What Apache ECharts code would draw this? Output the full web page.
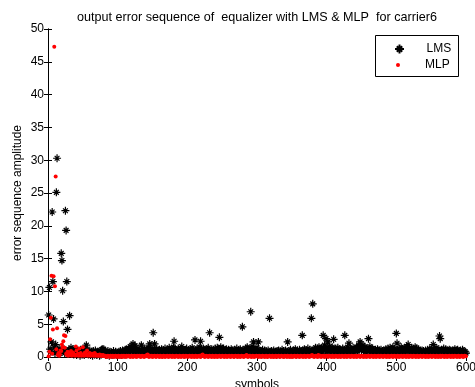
<!DOCTYPE html>
<html>
<head>
    <meta charset="utf-8">
    <title>carrier6</title>
    <script src="https://cdn.jsdelivr.net/npm/echarts@6/dist/echarts.min.js"></script>
</head>
<body style="margin:0;background-color:#fff;">
    <div id="main" style="width:475px;height:387px;"></div>
    <script type="text/javascript">
        // 刻度
        var xTicks = [0, 100, 200, 300, 400, 500, 600];
        var yTicks = [0, 5, 10, 15, 20, 25, 30, 35, 40, 45, 50];

        // LMS 误差, 第1..600个符号
        var lmsErr = [
            6.4,10.6,1.2,0.8,2.3,22.1,11.5,5.8,1.5,0.6,1.9,25.1,30.3,1.0,0.7,1.3,0.5,0.9,15.8,14.7,
            10.1,5.4,1.2,0.6,22.3,19.3,11.5,4.2,0.9,1.1,6.3,0.8,1.4,0.5,0.7,1.2,0.4,0.9,0.6,1.1,
            0.3,0.8,1.0,0.5,0.7,0.2,1.1,0.6,0.4,0.9,0.8,0.3,1.2,0.6,1.8,0.5,0.9,0.4,0.7,1.0,
            0.3,0.6,0.8,0.2,0.9,0.5,0.4,1.0,0.7,0.3,0.6,0.8,0.5,0.2,0.9,0.4,1.1,1.2,0.6,1.2,
            0.5,0.8,0.3,0.7,0.4,0.9,0.6,0.2,0.8,0.5,0.7,0.3,0.6,0.9,0.4,0.5,0.8,0.3,0.7,0.6,
            0.4,0.8,0.5,0.9,0.3,0.7,1.0,0.6,0.8,0.4,1.1,0.7,1.2,0.5,0.9,1.3,1.0,1.6,0.8,1.4,
            1.1,2.0,0.7,1.3,1.7,0.9,0.6,1.2,0.8,1.0,0.5,1.1,0.7,1.8,0.9,1.3,0.6,1.0,1.2,0.8,
            0.5,1.1,0.9,1.4,0.7,2.0,1.2,0.8,1.0,0.6,3.7,1.3,2.0,0.9,0.7,1.2,0.5,1.0,0.8,1.1,
            0.6,0.9,1.2,0.4,0.8,1.0,0.7,1.3,0.5,0.9,1.1,0.6,0.8,1.4,0.7,1.0,0.5,1.2,0.9,1.5,
            2.4,0.8,1.1,0.6,1.0,0.7,1.3,0.5,0.9,1.2,0.6,1.6,0.8,1.0,0.4,0.9,1.1,0.7,1.3,0.6,
            0.8,1.0,0.5,1.2,0.7,0.9,1.4,0.6,1.1,0.8,2.6,1.0,0.7,1.3,0.5,0.9,1.2,1.5,2.4,0.8,
            1.0,0.6,1.3,0.7,1.1,0.9,0.5,1.2,0.8,1.4,0.6,3.7,1.0,0.7,1.2,0.9,0.5,1.1,0.8,1.3,
            0.6,1.0,1.4,0.7,1.2,3.0,0.9,1.5,0.6,1.1,0.8,1.3,0.5,1.0,0.7,1.2,0.9,0.6,1.1,0.8,
            0.5,0.9,1.2,0.6,1.0,0.7,0.4,1.1,0.8,0.6,1.3,0.9,0.5,1.0,0.7,1.2,0.8,0.6,4.6,1.1,
            0.7,1.0,0.5,1.3,0.9,1.5,0.6,1.1,0.8,1.2,6.9,1.0,1.6,0.7,2.3,0.9,1.2,0.6,1.0,1.4,
            0.8,2.3,0.5,1.0,0.7,0.9,0.4,1.1,0.6,0.8,1.0,0.5,0.9,0.7,0.4,1.0,0.6,5.9,0.8,0.5,
            0.9,0.6,0.4,1.0,0.7,0.5,0.8,0.3,0.9,0.6,1.0,0.4,0.7,0.8,0.5,1.1,0.6,0.9,0.4,0.7,
            1.0,0.6,0.8,2.3,0.5,0.9,0.7,1.1,0.4,0.8,0.6,1.0,0.5,0.9,1.2,0.7,0.4,1.0,0.6,0.8,
            1.1,0.5,0.9,0.7,3.3,1.0,0.6,1.2,0.8,0.5,1.0,0.7,1.3,0.9,0.6,1.1,0.8,5.9,1.0,8.1,
            0.7,1.2,0.9,1.4,0.6,1.0,1.3,0.8,1.5,0.7,1.1,0.9,1.4,0.6,3.3,1.2,1.8,1.0,2.8,1.3,
            0.9,2.3,1.1,1.6,0.7,1.2,1.0,1.5,0.8,2.7,1.1,0.6,1.3,0.9,1.0,1.4,0.7,1.2,0.8,1.1,
            0.6,1.0,1.3,0.8,1.1,3.3,0.9,1.2,0.7,1.5,1.0,2.1,0.8,1.3,0.6,1.1,0.9,1.4,0.7,1.0,
            1.2,0.8,1.5,0.9,1.1,1.8,1.3,2.3,1.6,1.0,1.4,1.8,0.9,1.2,1.5,0.7,1.1,1.3,0.8,2.8,
            1.0,1.6,0.7,1.2,0.9,1.3,0.6,1.0,0.8,1.1,0.5,0.9,1.2,0.7,1.0,0.6,0.8,1.1,0.5,0.9,
            0.7,1.0,0.6,0.8,1.2,0.5,0.9,1.3,0.7,1.0,1.4,0.6,1.1,0.8,1.5,0.9,1.2,0.7,1.0,3.6,
            2.1,1.0,0.7,1.3,0.9,1.1,1.5,0.8,1.2,0.6,1.0,1.4,0.9,1.2,1.6,0.8,1.9,1.1,1.3,0.7,
            1.0,1.4,0.8,1.2,0.6,1.1,1.5,0.9,1.3,0.7,1.0,1.2,0.6,0.9,0.5,0.8,1.0,0.6,0.9,0.7,
            0.5,1.0,0.8,0.6,1.1,0.7,0.9,1.2,0.6,1.0,1.3,0.8,1.9,0.7,1.1,0.9,1.4,0.6,1.0,0.8,
            1.2,3.2,2.8,0.9,1.1,0.7,1.0,1.3,0.6,0.9,1.2,0.8,1.0,0.5,0.9,1.1,0.7,1.0,0.6,0.8,
            1.0,0.7,0.9,1.2,0.6,1.0,0.8,1.1,0.5,0.9,0.7,1.0,0.6,0.8,1.1,0.7,0.9,0.5,0.8,0.6
        ];

        // MLP 误差, 第1..600个符号
        var mlpErr = [
            0.1,0.8,2.7,6.0,12.4,0.5,4.2,12.3,47.3,10.8,27.5,1.2,4.4,0.3,0.6,0.2,0.4,1.0,0.9,1.9,
            1.5,2.4,3.3,1.4,3.2,0.5,0.3,0.8,0.2,0.4,0.6,0.3,0.9,0.2,0.5,0.7,0.3,0.4,0.2,1.6,
            1.0,0.3,0.5,0.2,1.3,0.4,0.6,0.2,0.3,1.5,0.4,0.2,0.7,0.3,0.5,1.0,0.2,0.4,0.3,0.6,
            0.2,0.4,0.3,0.5,0.2,0.3,0.6,0.2,0.4,0.3,0.2,0.3,0.2,0.4,0.2,0.3,0.2,0.2,0.3,0.2,
            0.1,0.2,0.1,0.0,0.1,0.2,0.1,0.1,0.0,0.2,0.1,0.1,0.2,0.0,0.1,0.1,0.2,0.1,0.0,0.1,
            0.2,0.1,0.0,0.1,0.1,0.2,0.0,0.1,0.2,0.1,0.1,0.0,0.2,0.1,0.1,0.2,0.1,0.0,0.1,0.2,
            0.1,0.0,0.1,0.2,0.1,0.1,0.0,0.2,0.1,0.1,0.2,0.1,0.0,0.1,0.2,0.1,0.1,0.0,0.1,0.2,
            0.1,0.3,0.4,0.1,0.0,0.2,0.1,0.1,0.2,0.0,0.1,0.1,0.2,0.1,0.0,0.1,0.2,0.1,0.1,0.0,
            0.2,0.1,0.1,0.0,0.1,0.2,0.1,0.0,0.1,0.1,0.2,0.1,0.0,0.1,0.2,0.1,0.1,0.0,0.2,0.1,
            0.1,0.0,0.1,0.2,0.1,0.1,0.0,0.1,0.2,0.1,0.0,0.1,0.1,0.2,0.1,0.0,0.1,0.2,0.1,0.1,
            0.0,0.1,0.2,0.1,0.1,0.0,0.2,0.1,0.1,0.0,0.1,0.2,0.1,0.0,0.1,0.1,0.2,0.1,0.0,0.1,
            0.3,0.4,0.2,0.1,0.0,0.1,0.2,0.1,0.1,0.0,0.1,0.2,0.1,0.1,0.0,0.2,0.1,0.1,0.0,0.1,
            0.2,0.1,0.0,0.1,0.1,0.2,0.1,0.0,0.1,0.2,0.1,0.1,0.0,0.1,0.2,0.1,0.0,0.1,0.1,0.2,
            0.1,0.0,0.1,0.2,0.1,0.1,0.0,0.1,0.2,0.1,0.1,0.0,0.2,0.1,0.1,0.0,0.1,0.2,0.1,0.1,
            0.0,0.1,0.2,0.1,0.3,0.1,0.0,0.1,0.2,0.1,0.1,0.0,0.1,0.2,0.1,0.0,0.1,0.1,0.2,0.1,
            0.1,0.0,0.2,0.1,0.1,0.0,0.1,0.2,0.1,0.1,0.0,0.1,0.2,0.1,0.0,0.1,0.1,0.2,0.1,0.0,
            0.1,0.2,0.1,0.0,0.1,0.1,0.2,0.0,0.1,0.1,0.2,0.1,0.0,0.1,0.2,0.1,0.1,0.0,0.1,0.2,
            0.1,0.1,0.0,0.2,0.1,0.1,0.0,0.1,0.2,0.1,0.0,0.1,0.1,0.2,0.1,0.0,0.1,0.2,0.1,0.1,
            0.0,0.1,0.2,0.1,0.1,0.0,0.1,0.2,0.1,0.0,0.1,0.1,0.2,0.1,0.0,0.1,0.2,0.1,0.3,0.1,
            0.1,0.0,0.1,0.2,0.1,0.1,0.0,0.3,0.1,0.1,0.2,0.0,0.1,0.1,0.2,0.1,0.0,0.1,0.1,0.2,
            0.1,0.0,0.1,0.2,0.1,0.1,0.0,0.2,0.1,0.1,0.0,0.1,0.2,0.1,0.1,0.0,0.1,0.2,0.1,0.0,
            0.1,0.2,0.1,0.1,0.0,0.1,0.2,0.1,0.0,0.1,0.1,0.2,0.1,0.0,0.1,0.2,0.1,0.1,0.0,0.1,
            0.2,0.1,0.0,0.1,0.1,0.2,0.1,0.0,0.1,0.2,0.1,0.1,0.0,0.1,0.2,0.1,0.0,0.1,0.1,0.2,
            0.1,0.0,0.1,0.2,0.1,0.1,0.0,0.1,0.2,0.1,0.0,0.1,0.1,0.2,0.1,0.0,0.1,0.2,0.1,0.1,
            0.0,0.1,0.2,0.1,0.1,0.0,0.1,0.2,0.1,0.0,0.1,0.1,0.2,0.1,0.0,0.1,0.2,0.1,0.1,0.0,
            0.1,0.2,0.1,0.0,0.1,0.1,0.2,0.1,0.0,0.1,0.2,0.1,0.1,0.0,0.1,0.2,0.1,0.0,0.1,0.1,
            0.2,0.1,0.0,0.1,0.2,0.1,0.1,0.0,0.1,0.2,0.1,0.0,0.1,0.1,0.2,0.1,0.0,0.1,0.2,0.1,
            0.1,0.0,0.1,0.2,0.1,0.0,0.1,0.1,0.2,0.1,0.0,0.1,0.2,0.1,0.1,0.0,0.1,0.2,0.1,0.0,
            0.1,0.1,0.2,0.0,0.1,0.2,0.1,0.1,0.0,0.1,0.2,0.1,0.0,0.1,0.1,0.2,0.1,0.0,0.1,0.2,
            0.1,0.0,0.1,0.2,0.1,0.1,0.0,0.1,0.2,0.1,0.0,0.1,0.1,0.2,0.1,0.0,0.1,0.2,0.1,0.1
        ];

        var font = "'Liberation Sans', Arial, sans-serif";
        // matlab 的 * 号
        var starPath = 'path://M0,-1L0,1M-1,0L1,0M-0.6,-0.6L0.6,0.6M-0.6,0.6L0.6,-0.6';

        var lmsData = lmsErr.map(function (v, i) { return [i + 1, v]; });
        var mlpData = mlpErr.map(function (v, i) { return [i + 1, v]; });

        var myChart = echarts.init(document.getElementById('main'));

        var boxAxis = {
            axisLine: { show: true, lineStyle: { color: '#000', width: 1 } },
            axisTick: { show: true, inside: true, length: 4, lineStyle: { color: '#000' } },
            splitLine: { show: false }
        };
        var legendText = { fontFamily: font, fontSize: 12, color: '#000' };

        var option = {
            animation: false,
            backgroundColor: '#fff',
            title: {
                text: 'output error sequence of  equalizer with LMS & MLP  for carrier6',
                left: 252,
                textAlign: 'center',
                top: 6,
                textStyle: { fontFamily: font, fontSize: 12.6, fontWeight: 'normal', color: '#000' }
            },
            // 图例外框
            graphic: [{
                type: 'rect',
                shape: { x: 375.5, y: 35.5, width: 83, height: 41 },
                style: { fill: '#fff', stroke: '#000', lineWidth: 1 },
                z: 5
            }],
            legend: [
                {
                    left: 389, top: 38, itemWidth: 44, itemHeight: 9, itemGap: 4,
                    textStyle: legendText, data: ['LMS'], z: 10
                },
                {
                    left: 391, top: 54, itemWidth: 44, itemHeight: 4, itemGap: 4,
                    textStyle: legendText, data: ['MLP'], z: 10
                }
            ],
            grid: { left: 48, right: 9, top: 29, bottom: 30, containLabel: false, outerBoundsMode: 'none' },
            xAxis: [
                Object.assign({}, boxAxis, {
                    type: 'value', min: 0, max: 600, interval: 100,
                    name: 'symbols', nameLocation: 'middle', nameGap: 21,
                    nameTextStyle: { fontFamily: font, fontSize: 12, color: '#000' },
                    axisLabel: {
                        fontFamily: font, fontSize: 12, color: '#000', margin: 5,
                        formatter: function (v) { return xTicks.indexOf(v) >= 0 ? String(v) : ''; }
                    }
                }),
                Object.assign({}, boxAxis, {
                    type: 'value', min: 0, max: 600, interval: 100, position: 'top',
                    axisLabel: { show: false }
                })
            ],
            yAxis: [
                Object.assign({}, boxAxis, {
                    type: 'value', min: 0, max: 50, interval: 5,
                    name: 'error sequence amplitude', nameLocation: 'middle', nameGap: 24,
                    nameMoveOverlap: false,
                    nameTextStyle: { fontFamily: font, fontSize: 12, color: '#000' },
                    axisLabel: {
                        fontFamily: font, fontSize: 12, color: '#000', margin: 4,
                        formatter: function (v) { return yTicks.indexOf(v) >= 0 ? String(v) : ''; }
                    }
                }),
                Object.assign({}, boxAxis, {
                    type: 'value', min: 0, max: 50, interval: 5, position: 'right',
                    axisLabel: { show: false }
                })
            ],
            series: [
                {
                    name: 'LMS',
                    type: 'scatter',
                    symbol: starPath,
                    symbolSize: 8,
                    itemStyle: { color: 'rgba(0,0,0,0)', borderColor: '#000', borderWidth: 1.2, opacity: 1 },
                    data: lmsData
                },
                {
                    name: 'MLP',
                    type: 'scatter',
                    symbol: 'circle',
                    symbolSize: 4,
                    itemStyle: { color: '#ff0000', opacity: 1 },
                    data: mlpData
                }
            ]
        };
        myChart.setOption(option);
    </script>
</body>
</html>
